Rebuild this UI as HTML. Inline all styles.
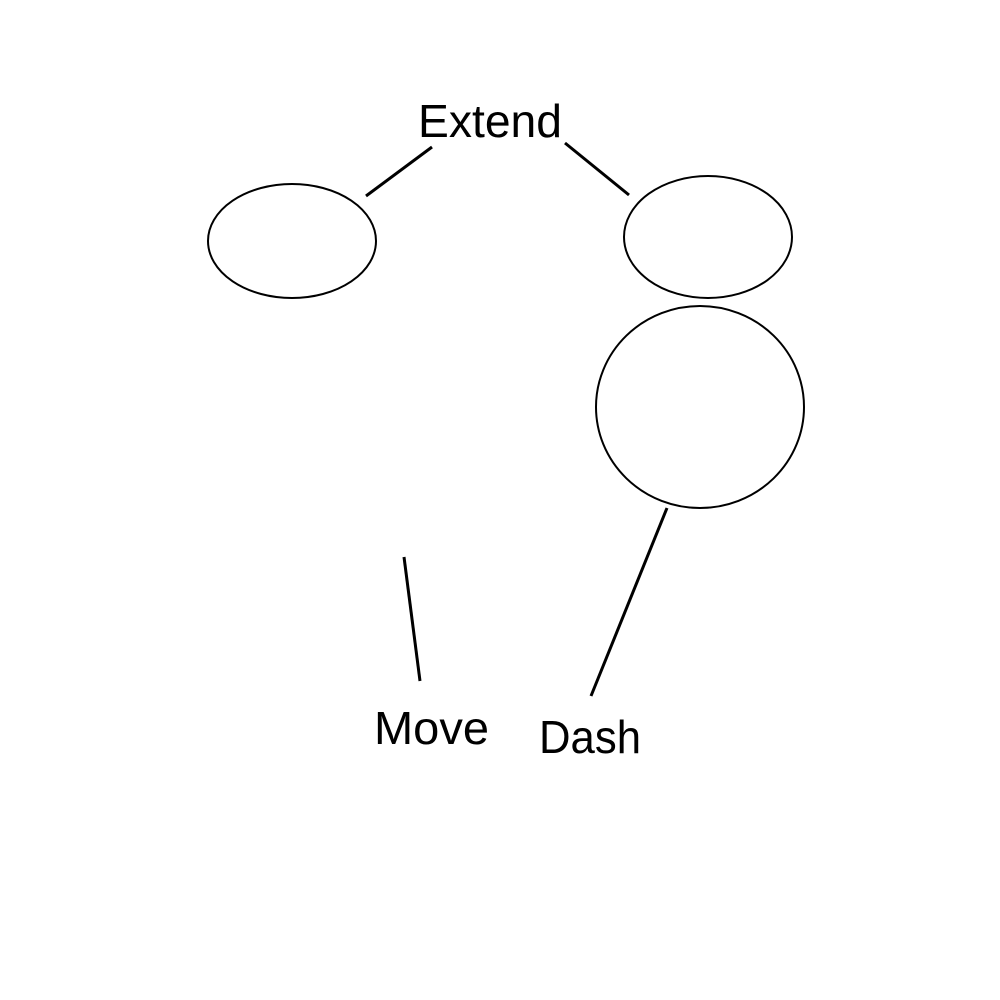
<!DOCTYPE html>
<html><head><meta charset="utf-8"><style>html,body{margin:0;padding:0;background:#fff}</style></head>
<body>
<svg width="1000" height="1000" xmlns="http://www.w3.org/2000/svg" style="display:block">
<rect width="1000" height="1000" fill="#fff"/>
<g fill="none" stroke="#000" stroke-width="2">
<ellipse cx="292" cy="241" rx="84" ry="57"/>
<ellipse cx="708" cy="237" rx="84" ry="61"/>
<ellipse cx="700" cy="407" rx="104" ry="101"/>
<line x1="366" y1="196" x2="432" y2="147" stroke-width="3"/>
<line x1="565" y1="143" x2="629" y2="195" stroke-width="3"/>
<line x1="667" y1="508" x2="591" y2="696" stroke-width="3"/>
<line x1="404" y1="557" x2="420" y2="681" stroke-width="3"/>
</g>
<g font-family="Liberation Sans, sans-serif" font-size="46" fill="#000">
<text x="418" y="137" textLength="144" lengthAdjust="spacingAndGlyphs">Extend</text>
<text x="374" y="744" textLength="115" lengthAdjust="spacingAndGlyphs">Move</text>
<text x="539" y="753" textLength="102" lengthAdjust="spacingAndGlyphs">Dash</text>
</g>
</svg>
</body></html>
